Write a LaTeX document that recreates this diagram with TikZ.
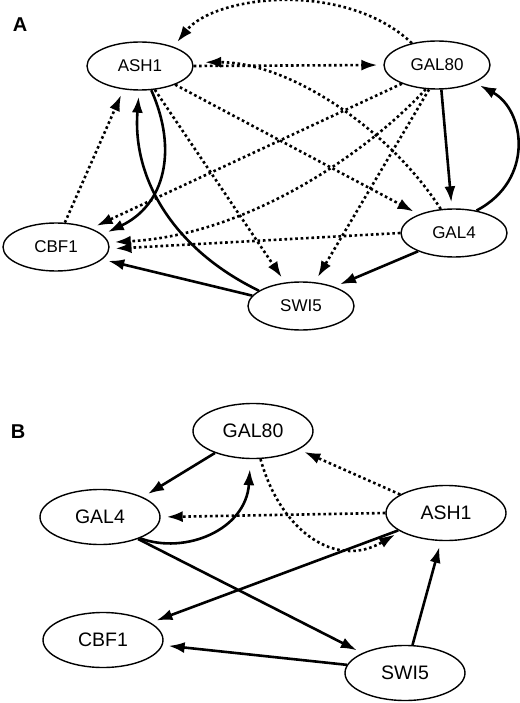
\documentclass[tikz,border=0pt]{standalone}
\usepackage{fontspec}
\setmainfont{Liberation Sans}
\usetikzlibrary{shapes.geometric,arrows.meta}
\begin{document}
\begin{tikzpicture}[x=1pt,y=-1pt,
  gnodeA/.style={ellipse,draw,line width=1.4pt,inner sep=0pt,minimum width=106pt,minimum height=48pt,font=\fontsize{17}{19}\selectfont},
  gnodeB/.style={ellipse,draw,line width=1.4pt,inner sep=0pt,minimum width=120pt,minimum height=55pt,font=\fontsize{19.5}{21}\selectfont},
  act/.style={line width=2.6pt,-{Latex[length=16pt,width=11pt]},shorten >=6pt},
  inh/.style={line width=2.6pt,dash pattern=on 2.6pt off 2.8pt,-{Latex[length=16pt,width=11pt]},shorten >=6pt},
  panel/.style={font=\fontsize{20}{22}\selectfont\bfseries}]
\fill[white] (0,0) rectangle (519,703);
\useasboundingbox (0,0) rectangle (519,703);

% Panel A
\node[panel] (labA) at (20,25) {A};
\node[gnodeA] (ASH1A) at (140,66) {ASH1};
\node[gnodeA] (GAL80A) at (437,65) {GAL80};
\node[gnodeA] (CBF1A) at (56,247) {CBF1};
\node[gnodeA] (GAL4A) at (454,233) {GAL4};
\node[gnodeA] (SWI5A) at (301,306) {SWI5};

\draw[inh] (GAL80A.139) .. controls (345,-20) and (215,-5) .. (ASH1A.30);
\draw[inh] (ASH1A.0) -- (GAL80A.180);
\draw[inh,shorten >=12pt] (GAL4A.119) .. controls (390,130) and (290,62) .. (ASH1A.4);
\draw[inh] (ASH1A.-28) -- (GAL4A.152);
\draw[inh] (ASH1A.-58) -- (SWI5A.124);
\draw[act] (ASH1A.-65) .. controls (178,150) and (165,205) .. (CBF1A.15);
\draw[act] (SWI5A.160) .. controls (175,250) and (132,180) .. (ASH1A.-92);
\draw[act] (SWI5A.168) -- (CBF1A.-15);
\draw[act] (GAL4A.207) -- (SWI5A.30);
\draw[inh] (GAL4A.180) -- (CBF1A.-2);
\draw[inh] (GAL80A.-115) .. controls (370,150) and (250,235) .. (CBF1A.5);
\draw[inh] (GAL80A.208) -- (CBF1A.28);
\draw[inh] (GAL80A.-108) -- (SWI5A.60);
\draw[act] (GAL80A.-80) -- (GAL4A.95);
\draw[act] (GAL4A.45) .. controls (535,180) and (525,110) .. (GAL80A.-25);
\draw[inh] (CBF1A.70) -- (ASH1A.-125);

% Panel B
\node[panel] (labB) at (18,432) {B};
\node[gnodeB] (GAL80B) at (253,431) {GAL80};
\node[gnodeB] (GAL4B) at (100,517) {GAL4};
\node[gnodeB] (ASH1B) at (446,513) {ASH1};
\node[gnodeB] (CBF1B) at (103,640) {CBF1};
\node[gnodeB] (SWI5B) at (405,673) {SWI5};

\draw[act] (GAL80B.-150) -- (GAL4B.25);
\draw[act,shorten >=10pt] (GAL4B.-28) .. controls (185,555) and (246,530) .. (GAL80B.-95);
\draw[inh] (ASH1B.158) -- (GAL80B.-22);
\draw[inh] (ASH1B.180) -- (GAL4B.0);
\draw[inh] (GAL80B.-75) .. controls (280,530) and (335,570) .. (ASH1B.-158);
\draw[act] (ASH1B.-160) -- (CBF1B.20);
\draw[act] (GAL4B.-30) -- (SWI5B.155);
\draw[act] (SWI5B.172) -- (CBF1B.-5);
\draw[act] (SWI5B.75) -- (ASH1B.-100);
\end{tikzpicture}
\end{document}
